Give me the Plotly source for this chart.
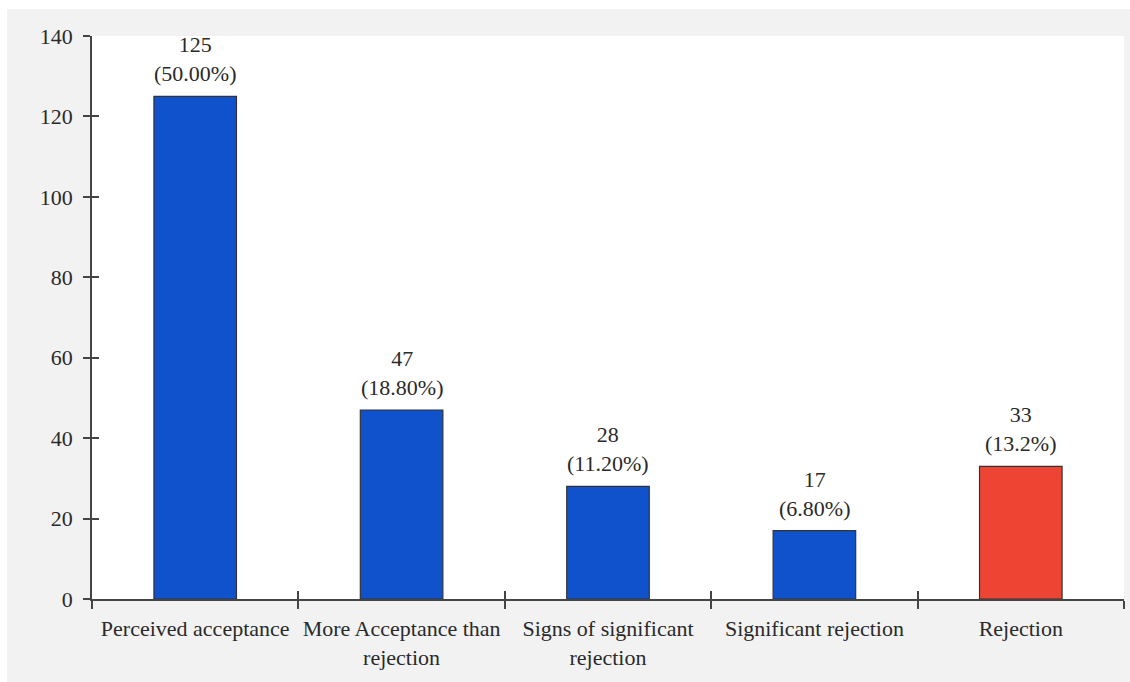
import plotly.graph_objects as go

categories = ["Perceived acceptance", "More Acceptance than<br>rejection",
              "Signs of significant<br>rejection", "Significant rejection", "Rejection"]
counts = [125, 47, 28, 17, 33]
pct_labels = ["50.00%", "18.80%", "11.20%", "6.80%", "13.2%"]
colors = ["#1052CC", "#1052CC", "#1052CC", "#1052CC", "#EE4433"]
y_ticks = [0, 20, 40, 60, 80, 100, 120, 140]

W, H = 1130, 682
L, R, T, B = 92, 6, 36, 83
pw, ph = W - L - R, H - T - B

text = [f"{c}<br>({p})" for c, p in zip(counts, pct_labels)]
font = dict(family="Liberation Serif, Times New Roman, serif", size=22, color="#2a2a2a")

fig = go.Figure()
fig.add_trace(go.Bar(x=categories, y=counts, marker=dict(color=colors, line=dict(color="#333333", width=1.2)),
                     width=0.4, cliponaxis=False))
# invisible trace for overlay axes
fig.add_trace(go.Scatter(x=categories, y=counts, xaxis="x2", yaxis="y2", mode="markers",
                         marker=dict(opacity=0), hoverinfo="skip", showlegend=False))

for c, v, t in zip(categories, counts, text):
    fig.add_annotation(x=c, y=v, text=t, showarrow=False, yanchor="bottom", yshift=8,
                       font=font, xref="x", yref="y")

fig.update_layout(
    width=W, height=H, margin=dict(l=L, r=R, t=T, b=B, pad=0, autoexpand=False),
    paper_bgcolor="#f2f2f2", plot_bgcolor="white", showlegend=False, font=font,
    xaxis=dict(type="category", tickson="boundaries", ticks="outside", ticklen=8, tickwidth=1.5,
               tickcolor="#444444", showline=True, linecolor="#444444", linewidth=1.5,
               showgrid=False, tickfont=font, ticklabelstandoff=9, tickangle=0, automargin=False),
    yaxis=dict(range=[0, 140], tickvals=y_ticks, ticks="outside", ticklen=7, tickwidth=1.5,
               tickcolor="#444444", showline=True, linecolor="#444444", linewidth=1.5,
               showgrid=False, zeroline=False, tickfont=font, ticklabelstandoff=6, automargin=False),
    xaxis2=dict(type="category", overlaying="x", tickson="boundaries", ticks="inside", ticklen=8,
                tickwidth=1.5, tickcolor="#444444", showticklabels=False, showgrid=False,
                showline=False, matches="x", side="bottom"),
    yaxis2=dict(range=[0, 140], tickvals=y_ticks, overlaying="y", ticks="inside", ticklen=7,
                tickwidth=1.5, tickcolor="#444444", showticklabels=False, showgrid=False,
                zeroline=False, showline=False, side="left"),
    shapes=[
        dict(type="rect", xref="paper", yref="paper", x0=-L / pw, x1=(W - L) / pw,
             y0=1 + (T - 9) / ph, y1=1 + T / ph, fillcolor="white", line_width=0, layer="below"),
        dict(type="rect", xref="paper", yref="paper", x0=-L / pw, x1=(7 - L) / pw,
             y0=-B / ph, y1=1 + T / ph, fillcolor="white", line_width=0, layer="below"),
    ],
)

fig.write_html("out.html")
